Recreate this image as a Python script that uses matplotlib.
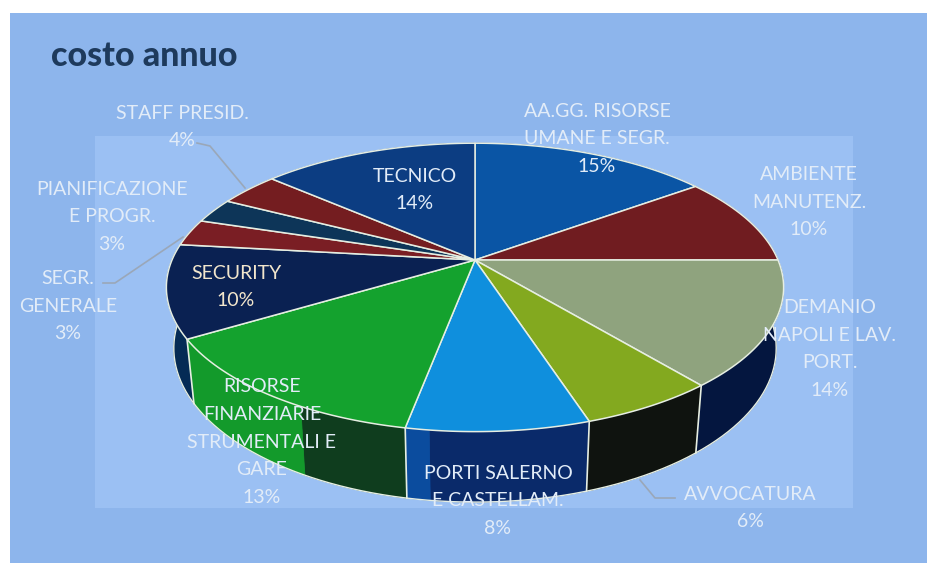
import numpy as np
import matplotlib
matplotlib.use("Agg")
import matplotlib.pyplot as plt
from matplotlib.patches import Rectangle

plt.rcParams['font.family'] = ['Lato', 'DejaVu Sans']

title = "costo annuo"
categories = ["AA.GG. RISORSE\nUMANE E SEGR.", "AMBIENTE\nMANUTENZ.", "DEMANIO\nNAPOLI E LAV.\nPORT.",
              "AVVOCATURA", "PORTI SALERNO\nE CASTELLAM.", "RISORSE\nFINANZIARIE\nSTRUMENTALI E\nGARE",
              "SECURITY", "SEGR.\nGENERALE", "PIANIFICAZIONE\nE PROGR.", "STAFF PRESID.", "TECNICO"]
values = [15, 10, 14, 6, 8, 13.4, 10.4, 3, 2.8, 3.8, 13.6]
top_colors = ["#0A55A5", "#701C20", "#8FA37E", "#83A91F", "#0F8FDD", "#14A22E",
              "#0A2152", "#7A1E24", "#0D3558", "#741D20", "#0C3D82"]
# side shading: (fraction along the slice where the shade starts, colour)
side_colors = [[(0, "#0A2A60")], [(0, "#4A1215")], [(0, "#04163F")], [(0, "#0F130F")],
               [(0, "#0A2A6A"), (0.87, "#0B4C9E")], [(0, "#0F3D1E"), (0.37, "#139A2B")],
               [(0, "#052B55")], [(0, "#4A1215")], [(0, "#06203A")], [(0, "#4A1215")], [(0, "#08275A")]]
label_xy = [(597, 139), (809, 202), (830, 349), (750, 508), (498, 501), (262, 442),
            (236, 287), (68, 306), (112, 217), (182, 127), (415, 190)]
label_colors = ["#E2ECF8"] * 6 + ["#F2E6CC"] + ["#E2ECF8"] * 4
leaders = [([197, 210, 245], [143, 146, 188]), ([103, 115, 183], [283, 283, 237]),
           ([675, 655, 640], [498, 498, 480])]

CX, CY, A, S, K = 475, 260, 303, 139, 0.19

def top(t):
    """Perspective map of the disc rim; t clockwise from the back, radians."""
    den = 1 + K * np.cos(t)
    return CX + A * np.sin(t) / den, CY - S * np.cos(t) / den

def bottom(t):
    x, y = top(t)
    return CX + 0.976 * (x - CX), CY + 1.067 * (y - CY) + 59

fig = plt.figure(figsize=(9.28, 5.63), dpi=100, facecolor="white")
ax = fig.add_axes([0, 0, 1, 1])
ax.set_xlim(0, 928)
ax.set_ylim(563, 0)
ax.axis("off")
ax.add_patch(Rectangle((10, 13), 918, 550, fc="#8DB5EC", ec="none", zorder=0))
ax.add_patch(Rectangle((95, 136), 758, 372, fc="#9BC0F3", ec="none", zorder=0.5))

edges = 2 * np.pi * np.concatenate([[0], np.cumsum(values)]) / sum(values)
rim = "#E6EEE2"

# side walls, then top slices
for i in np.argsort(-np.abs(np.pi - (edges[:-1] + edges[1:]) / 2)):
    a0, a1 = edges[i], edges[i + 1]
    shades = side_colors[i]
    for j, (f, col) in enumerate(shades):
        f1 = shades[j + 1][0] if j + 1 < len(shades) else 1
        t = np.linspace(a0 + f * (a1 - a0), a0 + f1 * (a1 - a0), 60)
        xt, yt = top(t)
        xb, yb = bottom(t)
        ax.fill(np.r_[xt, xb[::-1]], np.r_[yt, yb[::-1]], fc=col, ec=col, lw=0.6, zorder=1)
front = np.linspace(np.pi / 2, 3 * np.pi / 2, 300)
ax.plot(*bottom(front), color=rim, lw=1, zorder=1.5)
for e in edges:
    if np.cos(e) < -0.05:
        xt, yt = top(e)
        xb, yb = bottom(e)
        ax.plot([xt, xb], [yt, yb], color=rim, lw=1.2, zorder=1.6)

for i in range(len(values)):
    t = np.linspace(edges[i], edges[i + 1], 80)
    xt, yt = top(t)
    ax.fill(np.r_[CX, xt], np.r_[CY, yt], fc=top_colors[i], ec=rim, lw=1.1, joinstyle="round", zorder=2)

for lx, ly in leaders:
    ax.plot(lx, ly, color="#9AA7B8", lw=1.2, zorder=3)

for name, v, (x, y), c in zip(categories, values, label_xy, label_colors):
    ax.text(x, y, f"{name}\n{round(v)}%", ha="center", va="center", color=c, fontsize=14,
            linespacing=1.77, zorder=4)

ax.text(51, 56, title, ha="left", va="center", color="#1E3A5C", fontsize=24.5, fontweight="black", zorder=4)

fig.savefig("out.png", dpi=100, facecolor="white")
